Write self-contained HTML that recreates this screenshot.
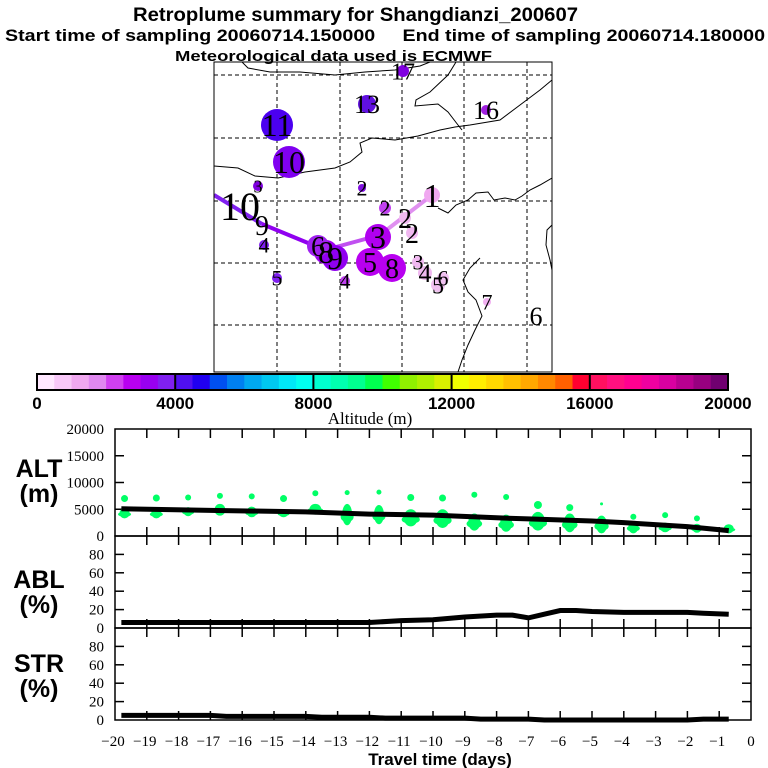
<!DOCTYPE html>
<html><head><meta charset="utf-8">
<style>
html,body{margin:0;padding:0;background:#fff;}
svg{display:block;}
.t{font-family:"Liberation Sans",sans-serif;font-weight:bold;}
.s{font-family:"Liberation Serif",serif;}
</style></head>
<body>
<svg id="root" width="768" height="768" viewBox="0 0 768 768" xmlns="http://www.w3.org/2000/svg">
<rect width="768" height="768" fill="#fff"/>
<text class="t" x="133" y="21" font-size="19" textLength="445" lengthAdjust="spacingAndGlyphs">Retroplume summary for Shangdianzi_200607</text>
<text class="t" x="5" y="41" font-size="17" textLength="760" lengthAdjust="spacingAndGlyphs" xml:space="preserve">Start time of sampling 20060714.150000     End time of sampling 20060714.180000</text>
<g id="map"></g>
<text class="t" x="175" y="61" font-size="15" textLength="317" lengthAdjust="spacingAndGlyphs">Meteorological data used is ECMWF</text>
<g id="cbar"></g>
<g id="alt"></g>
<g id="abl"></g>
<g id="str"></g>
<g id="xaxis"></g>
</svg>
<script>
// ---- data ----
const cbarColors = ["#ffe8ff","#f8c8f8","#f0a8f0","#e088f0","#d040f0","#b800f0","#9800f0","#8020f0",
"#5010f0","#2000f0","#0050f0","#0080f0","#00a8f0","#00c8f0","#00e8f8","#00fff0",
"#00ffd0","#00ffb0","#00ff90","#00ff50","#40ff00","#90f000","#b0f000","#d8f000",
"#f0ff00","#ffee00","#ffd800","#ffc000","#ffa800","#ff8800","#ff6000","#ff0030",
"#ff1060","#ff1080","#ff0090","#f000a0","#d800a0","#b80090","#980080","#700070"];
const cbarTicks = [0,4000,8000,12000,16000,20000];
const days = [-20,-19,-18,-17,-16,-15,-14,-13,-12,-11,-10,-9,-8,-7,-6,-5,-4,-3,-2,-1,0];
const altTicks = [0,5000,10000,15000,20000];
const pctTicks = [0,20,40,60,80];
const altLineDays = [-19.8,-17,-14,-12,-10,-8,-7,-5,-4,-2,-0.7];
const altLineVals = [5100,4800,4500,4100,3900,3400,3200,2800,2500,1750,1000];
const ablDays = [-19.8,-12,-11,-10,-9,-8,-7.5,-7,-6.5,-6,-5.5,-5,-4,-3,-2,-1.5,-0.7];
const ablVals = [6,6,8,9,12,14,14,11,15,19,19,18,17,17,17,16,15];
const strDays = [-19.8,-17,-16.5,-14,-13.5,-12,-11.5,-9,-8.5,-7,-6.5,-2,-1.5,-0.7];
const strVals = [5,5,4,4,3,3,2,2,1,1,0,0,1,1];
const clusterDays = [-19.7,-18.7,-17.7,-16.7,-15.7,-14.7,-13.7,-12.7,-11.7,-10.7,-9.7,-8.7,-7.7,-6.7,-5.7,-4.7,-3.7,-2.7,-1.7,-0.7];
const clusterTopAlt = [7000,7100,7200,7500,7400,7000,8000,8100,8200,7200,7100,7700,7300,5800,5300,6000,3600,3900,3300,2500];
const clusterTopR = [3.5,3.5,3,3,3,3.5,3,2.5,2.5,3.5,3.5,3,3,4,3.5,1.5,3,3,3,0];
const clusterHi = [5200,5200,5400,6000,5500,5000,6000,6000,5800,5000,5000,4200,4000,4500,4200,3800,2800,2500,2300,2200];
const clusterLo = [3300,3300,3700,3800,3500,3500,4000,2000,2200,1800,1500,1000,800,1000,700,500,500,700,600,500];
const clusterW = [5,5,4.5,5.5,5,4.5,6,5,5,7,7,6,6,7,6,5.5,5,5,4.5,5];
// map data
const mapX = [403,367,486,277,289,258,362,264,277,345,385,405,412,432,418,425,438,443,487,536,326,335,318,378,370,392,262];
const mapY = [71,104,110,125,162,186,188,245,278,281,208,218,233,195,262,273,285,278,302,316,252,258,246,237,262,268,225];
const mapR = [6,9,5,16,16,5,4,5,5,5,6,6,6,8,6,7,7,6,4,0,12,13,11,13,14,14,0];
const mapC = ["#8000e0","#6010e0","#a020e0","#4b00f0","#8000f0","#8000e0","#8010e0","#8020f0","#8020f0","#c040f0","#c040f0","#f0b8f0","#f0b8f0","#f0a8f0","#f0b8f0","#f0b8f0","#f0c0f0","#f0c0f0","#f0b0f0","#fff","#a000f0","#9000f0","#a020f0","#b000f0","#b800f0","#b800f0","#fff"];
const mapL = ["17","13","16","11","10","3","2","4","5","4","2","2","2","1","3","4","5","6","7","6","8","9","6","3","5","8","9"];
const mapF = [24,26,26,32,32,18,22,22,22,22,22,28,28,34,22,26,24,22,22,26,32,32,28,32,28,28,28];
const trajX = [214,262,325,380,432];
const trajY = [195,224,250,235,195];
const trajC = ["#8020f0","#9000f0","#c050f0","#e090f0"];

const NS="http://www.w3.org/2000/svg";
function mk(p,tag,at,txt){const e=document.createElementNS(NS,tag);for(const k in at)e.setAttribute(k,at[k]);if(txt!==undefined)e.textContent=txt;p.appendChild(e);return e;}

// ---- map ----
const map=document.getElementById('map');
const MX0=214,MX1=552,MY0=62,MY1=372;
const coast=[
 "242,62 248,68 270,72 300,72 335,75 365,72 395,70 420,66 430,62",
 "456,62 448,75 430,92 416,100 415,106 438,104 448,112 458,125 462,130",
 "214,166 238,168 255,176 278,178 305,172 335,168 350,162 362,152 360,143 372,138 395,140 418,136 440,130 455,127 470,125 500,120 520,105 540,90 552,80",
 "438,208 448,213 456,205 468,200 476,193 488,192 494,200 505,198 515,200 522,196 530,190 540,185 552,178",
 "552,225 547,230 546,245 550,260 552,270",
 "480,258 470,268 463,280 468,292 476,300 482,316 475,330 468,345 462,360 458,372"];
const clip=mk(map,'clipPath',{id:'mclip'});mk(clip,'rect',{x:MX0,y:MY0,width:MX1-MX0,height:MY1-MY0});
const mg=mk(map,'g',{'clip-path':'url(#mclip)'});
coast.forEach(c=>{const e=mk(mg,'polyline',{points:c,fill:'none',stroke:'#000','stroke-width':1});

});
[277,340,402,464,527].forEach(x=>{const e=mk(mg,'line',{x1:x,y1:MY0,x2:x,y2:MY1,stroke:'#000','stroke-dasharray':'4,3','stroke-width':1});

});
[75,138,201,263,325].forEach(y=>{const e=mk(mg,'line',{x1:MX0,y1:y,x2:MX1,y2:y,stroke:'#000','stroke-dasharray':'4,3','stroke-width':1});

});
for(let i=0;i<trajC.length;i++){const e=mk(mg,'line',{x1:trajX[i],y1:trajY[i],x2:trajX[i+1],y2:trajY[i+1],stroke:trajC[i],'stroke-width':4});

}
for(let i=0;i<mapX.length;i++){ if(mapR[i]>0){const c=mk(mg,'circle',{cx:mapX[i],cy:mapY[i],r:mapR[i],fill:mapC[i]});

}}
for(let i=0;i<mapX.length;i++){const t=mk(mg,'text',{x:mapX[i],y:mapY[i]+mapF[i]*0.35,'font-size':mapF[i],'text-anchor':'middle',class:'s'},mapL[i]);

}
{const t=mk(mg,'text',{x:240,y:220,'font-size':40,'text-anchor':'middle',class:'s'},'10');

}
mk(map,'rect',{x:MX0,y:MY0,width:MX1-MX0,height:MY1-MY0,fill:'none',stroke:'#000','stroke-width':1});

// ---- colorbar ----
const cb=document.getElementById('cbar');
const CX0=37,CX1=728,CY0=374,CY1=390;
const cw=(CX1-CX0)/cbarColors.length;
cbarColors.forEach((c,i)=>{const r=mk(cb,'rect',{x:CX0+i*cw,y:CY0,width:cw+0.5,height:CY1-CY0,fill:c});

});
const cbx=v=>CX0+(CX1-CX0)*v/20000;
cbarTicks.forEach(v=>{ if(v>0&&v<20000) mk(cb,'line',{x1:cbx(v),y1:CY0,x2:cbx(v),y2:CY1,stroke:'#000','stroke-width':2});
const t=mk(cb,'text',{x:cbx(v),y:409,'font-size':17,'text-anchor':'middle',class:'t'},String(v));

});
mk(cb,'rect',{x:CX0,y:CY0,width:CX1-CX0,height:CY1-CY0,fill:'none',stroke:'#000','stroke-width':2});
{const t=mk(cb,'text',{x:370,y:424,'font-size':17,'text-anchor':'middle',class:'s'},'Altitude (m)');

}

// ---- panels ----
const PX0=115,PX1=751;
const xs=d=>PX0+(d+20)*(PX1-PX0)/20;
function panel(g,y0,y1,vmax,ticks,label,unit,ly){
  const ys=v=>y1-(y1-y0)*v/vmax;
  days.forEach(d=>{ if(d>-20&&d<0){
    mk(g,'line',{x1:xs(d),y1:y0,x2:xs(d),y2:y0+9,stroke:'#000','stroke-width':1.5});
    mk(g,'line',{x1:xs(d),y1:y1,x2:xs(d),y2:y1-9,stroke:'#000','stroke-width':1.5});}});
  ticks.forEach(v=>{ if(v>0&&v<vmax){
    mk(g,'line',{x1:PX0,y1:ys(v),x2:PX0+9,y2:ys(v),stroke:'#000','stroke-width':1.5});
    mk(g,'line',{x1:PX1,y1:ys(v),x2:PX1-9,y2:ys(v),stroke:'#000','stroke-width':1.5});}
    const t=mk(g,'text',{x:104,y:ys(v)+5,'font-size':15,'text-anchor':'end',class:'s'},String(v));
    
    });
  mk(g,'rect',{x:PX0,y:y0,width:PX1-PX0,height:y1-y0,fill:'none',stroke:'#000','stroke-width':1.5});
  const a=mk(g,'text',{x:39,y:ly,'font-size':25,'text-anchor':'middle',class:'t'},label);
  
  
  const b=mk(g,'text',{x:39,y:ly+25,'font-size':25,'text-anchor':'middle',class:'t'},unit);
  
  
  return ys;
}
function line(g,dx,dv,ys,name){
  const pts=dx.map((d,i)=>xs(d)+','+ys(dv[i])).join(' ');
  const e=mk(g,'polyline',{points:pts,fill:'none',stroke:'#000','stroke-width':5});
  
  
}
const ga=document.getElementById('alt');
const ysA=panel(ga,429,536,20000,altTicks,'ALT','(m)',477);
clusterDays.forEach((d,i)=>{
  const x=xs(d);
  if(clusterTopR[i]>0){const c=mk(ga,'circle',{cx:x,cy:ysA(clusterTopAlt[i]),r:clusterTopR[i],fill:'#00ff66'});
  
  }
  const yh=ysA(clusterHi[i]),yl=ysA(clusterLo[i]);
  const e=mk(ga,'ellipse',{cx:x,cy:(yh+yl)/2,rx:clusterW[i],ry:(yl-yh)/2,fill:'#00ff66'});
  
  
  const e2=mk(ga,'ellipse',{cx:x,cy:(yh*0.4+yl*0.6),rx:clusterW[i]*1.3,ry:(yl-yh)/4,fill:'#00ff66'});
  
  
});
line(ga,altLineDays,altLineVals,ysA,'alt-mean-line');
const gb=document.getElementById('abl');
const ysB=panel(gb,536,628,100,pctTicks,'ABL','(%)',588);
line(gb,ablDays,ablVals,ysB,'abl-line');
const gs=document.getElementById('str');
const ysS=panel(gs,628,720,100,pctTicks,'STR','(%)',672);
line(gs,strDays,strVals,ysS,'str-line');

// ---- x axis ----
const gx=document.getElementById('xaxis');
days.forEach(d=>{const t=mk(gx,'text',{x:xs(d)-(d<0?2:0),y:746,'font-size':15,'text-anchor':'middle',class:'s'},d<0?'\u2212'+(-d):String(d));

});
{const t=mk(gx,'text',{x:440,y:765,'font-size':17,'text-anchor':'middle',class:'t'},'Travel time (days)');

}
</script>
</body></html>
